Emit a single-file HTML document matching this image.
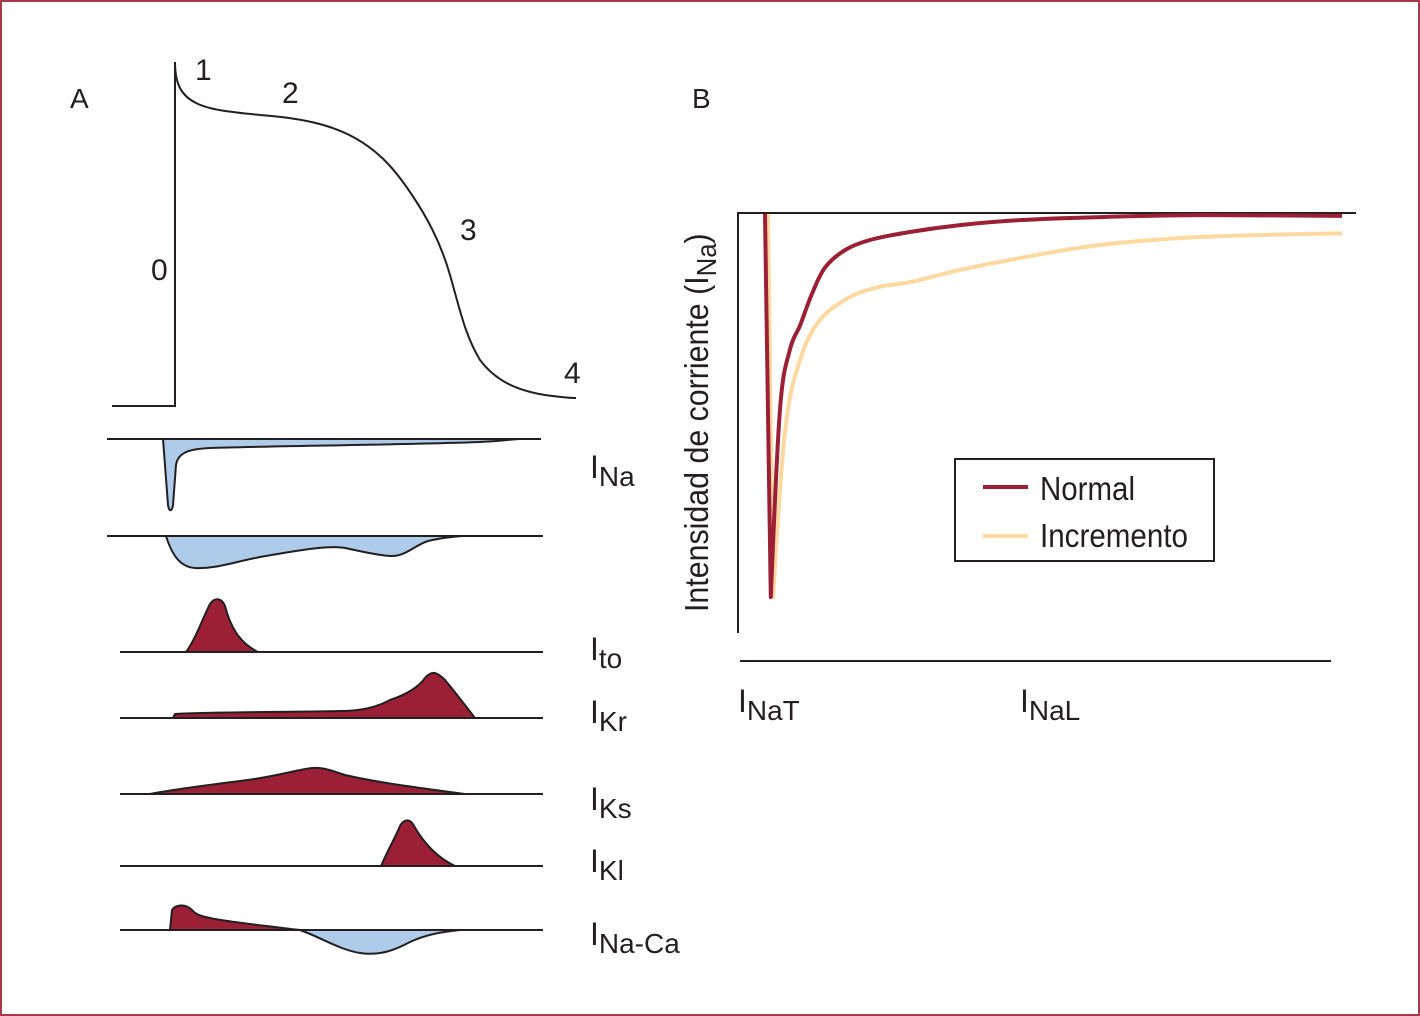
<!DOCTYPE html>
<html><head><meta charset="utf-8"><style>
html,body{margin:0;padding:0;background:#fff}
svg{display:block}
text{font-family:"Liberation Sans Narrow","Liberation Sans",sans-serif;fill:#231f20}
</style></head><body>
<svg width="1420" height="1016" viewBox="0 0 1420 1016">
<rect x="1" y="1" width="1418" height="1014" fill="#fff" stroke="#a33a48" stroke-width="2"/>
<g>
<text x="70" y="108" font-size="28">A</text>
<path d="M112,406 H175 V62 C175,85 182,96 196,103 C210,110 230,112 260,115 C300,118 330,124 355,138 C380,152 395,170 410,192 C425,214 440,240 450,275 C460,310 465,335 480,360 C495,380 515,390 545,395 C560,397 570,398 576,398" fill="none" stroke="#231f20" stroke-width="2"/>
<text x="195" y="80" font-size="30">1</text>
<text x="282" y="103" font-size="30">2</text>
<text x="460" y="240" font-size="30">3</text>
<text x="151" y="280" font-size="30">0</text>
<text x="564" y="383" font-size="30">4</text>

<path d="M163,439 L168,505 C169,512 172,512 173,505 L176,465 C178,452 190,449 210,448 C260,446 400,445 480,442 C500,441 515,439 520,439 Z" fill="#aecbe9" stroke="#231f20" stroke-width="2"/>
<line x1="107" y1="439" x2="541" y2="439" stroke="#231f20" stroke-width="2"/>
<path d="M166,536 C172,555 180,567 195,568 C215,569 230,563 260,557 C300,550 330,545 345,548 C360,551 375,555 390,556 C405,557 415,545 428,541 C440,538 450,537 462,536 Z" fill="#aecbe9" stroke="#231f20" stroke-width="2"/>
<line x1="107" y1="536" x2="543" y2="536" stroke="#231f20" stroke-width="2"/>
<text x="590" y="478" font-size="32">I<tspan dy="8" font-size="28">Na</tspan></text>

<path d="M186,652 C195,640 202,620 210,604 C215,597 222,598 225,606 C230,625 238,642 258,652 Z" fill="#9b2035" stroke="#231f20" stroke-width="2"/>
<line x1="120" y1="652" x2="543" y2="652" stroke="#231f20" stroke-width="2"/>
<text x="590" y="660" font-size="32">I<tspan dy="8" font-size="28">to</tspan></text>

<path d="M173,718 L175,714 C200,712 300,712 340,711 C360,711 375,708 390,700 C405,695 418,688 425,678 C432,670 437,672 445,680 C455,692 465,705 475,718 Z" fill="#9b2035" stroke="#231f20" stroke-width="2"/>
<line x1="120" y1="718" x2="543" y2="718" stroke="#231f20" stroke-width="2"/>
<text x="590" y="723" font-size="32">I<tspan dy="8" font-size="28">Kr</tspan></text>

<path d="M150,794 C170,790 200,786 240,781 C275,777 295,770 312,768 C322,767 330,770 345,775 C380,783 420,788 465,794 Z" fill="#9b2035" stroke="#231f20" stroke-width="2"/>
<line x1="120" y1="794" x2="543" y2="794" stroke="#231f20" stroke-width="2"/>
<text x="590" y="810" font-size="32">I<tspan dy="8" font-size="28">Ks</tspan></text>

<path d="M381,866 C388,850 395,838 400,826 C404,819 410,818 414,826 C425,845 438,858 455,866 Z" fill="#9b2035" stroke="#231f20" stroke-width="2"/>
<line x1="120" y1="866" x2="543" y2="866" stroke="#231f20" stroke-width="2"/>
<text x="590" y="872" font-size="32">I<tspan dy="8" font-size="28">Kl</tspan></text>

<path d="M170,930 L172,910 C175,905 185,903 192,910 C197,916 205,917 215,919 C245,924 275,927 300,930 Z" fill="#9b2035" stroke="#231f20" stroke-width="2"/>
<path d="M300,930 C320,937 340,950 360,953 C380,956 395,950 410,942 C425,935 440,932 460,930 Z" fill="#aecbe9" stroke="#231f20" stroke-width="2"/>
<line x1="120" y1="930" x2="543" y2="930" stroke="#231f20" stroke-width="2"/>
<text x="590" y="945" font-size="32">I<tspan dy="8" font-size="28">Na-Ca</tspan></text>
</g>

<g id="panelB">
<text x="692" y="108" font-size="28">B</text>
<line x1="738" y1="213" x2="738" y2="633" stroke="#231f20" stroke-width="2"/>
<line x1="737" y1="213" x2="1356" y2="213" stroke="#231f20" stroke-width="2"/>
<line x1="740" y1="661" x2="1331" y2="661" stroke="#231f20" stroke-width="2"/>
<text transform="translate(708,612) rotate(-90) scale(0.92,1)" font-size="33">Intensidad de corriente (I<tspan dy="8" font-size="28">Na</tspan><tspan dy="-8">)</tspan></text>
<text x="738" y="712" font-size="32">I<tspan dy="8" font-size="28">NaT</tspan></text>
<text x="1020" y="712" font-size="32">I<tspan dy="8" font-size="28">NaL</tspan></text>
<g id="lines"></g>
<rect x="955" y="459" width="259" height="102" fill="#fff" stroke="#231f20" stroke-width="2"/>
<line x1="983" y1="487" x2="1028" y2="487" stroke="#9b2035" stroke-width="4"/>
<text x="1040" y="500" font-size="33" textLength="95" lengthAdjust="spacingAndGlyphs">Normal</text>
<line x1="983" y1="536" x2="1028" y2="536" stroke="#fdd9a0" stroke-width="4"/>
<text x="1040" y="547" font-size="33" textLength="148" lengthAdjust="spacingAndGlyphs">Incremento</text>
</g>
</svg>
<script>
const normalT = [0,1,2.6,4.3,6.1,8.1,10.4,13.9,18.2,25.1,33.8,44.2,58.1,75.4,100];
const normalV = [0,-100,-51,-35.5,-29,-21,-14,-9.4,-6.8,-4.7,-2.9,-1.6,-0.8,-0.3,-0.5];
const incT = [0.5,1.4,3.5,6.1,9.5,14.7,19.9,25.1,33.8,44.2,58.1,75.4,100];
const incV = [0,-100,-56.4,-38,-27.7,-21.7,-19,-17.8,-14.6,-11.5,-8.1,-6,-5];
function xs(t){return 765+t*5.77;}
function ys(v){return 214-v*3.83;}
const g=document.getElementById('lines');
function draw(T,V,color,name){
  const pts=T.map((t,i)=>[xs(t),ys(V[i])]);
  let d='M'+pts[0][0].toFixed(1)+','+pts[0][1].toFixed(1);
  for(let i=0;i<pts.length-1;i++){
    const p0=pts[Math.max(0,i-1)],p1=pts[i],p2=pts[i+1],p3=pts[Math.min(pts.length-1,i+2)];
    const k=(i===0)?0:1/6, k2=(i===0)?0:1/6;
    const c1=[p1[0]+(p2[0]-p0[0])*k,p1[1]+(p2[1]-p0[1])*k];
    const c2=[p2[0]-(p3[0]-p1[0])*k2,p2[1]-(p3[1]-p1[1])*k2];
    if(i===1){c1[0]=p1[0];c1[1]=p1[1];}
    d+=' C'+c1[0].toFixed(1)+','+c1[1].toFixed(1)+' '+c2[0].toFixed(1)+','+c2[1].toFixed(1)+' '+p2[0].toFixed(1)+','+p2[1].toFixed(1);
  }
  const p=document.createElementNS('http://www.w3.org/2000/svg','path');
  p.setAttribute('d',d);
  p.setAttribute('fill','none');p.setAttribute('stroke',color);p.setAttribute('stroke-width','4');
  p.setAttribute('stroke-linejoin','round');
  
  
  g.appendChild(p);
}
draw(incT,incV,'#fdd9a0','incremento-line');
draw(normalT,normalV,'#9b2035','normal-line');
</script>
</body></html>
